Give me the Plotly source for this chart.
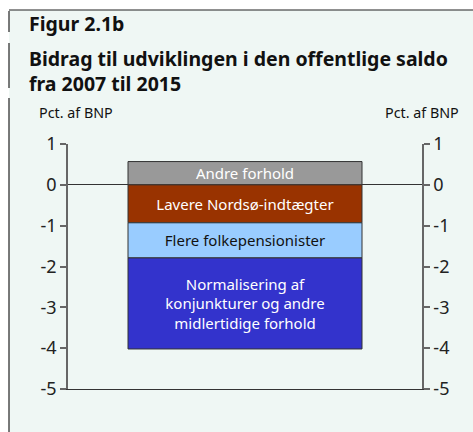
import plotly.graph_objects as go

categories = ["2007-2015"]
segments = ["Andre forhold", "Lavere Nordsø-indtægter", "Flere folkepensionister",
            "Normalisering af<br>konjunkturer og andre<br>midlertidige forhold"]
values = [0.57, -0.93, -0.86, -2.23]
colors = ["#999999", "#993300", "#99ccff", "#3333cc"]
text_colors = ["white", "white", "#111111", "white"]
tick_vals = [1, 0, -1, -2, -3, -4, -5]
tick_text = ["1", "0", "-1", "-2", "-3", "-4", "-5"]

BG = "#eff7f4"
FONT = "Noto Sans"

fig = go.Figure()
for name, v, c, tc in zip(segments, values, colors, text_colors):
    fig.add_trace(go.Bar(
        x=[0], y=[v], width=0.661, name=name,
        marker=dict(color=c, line=dict(color="#333333", width=1)),
        text=[name], textposition="inside", insidetextanchor="middle",
        textangle=0, constraintext="none",
        textfont=dict(family=FONT, size=15, color=tc),
        showlegend=False, hoverinfo="skip",
    ))

# invisible trace for right axis
fig.add_trace(go.Scatter(x=[0], y=[0], yaxis="y2", mode="markers",
                         marker=dict(opacity=0), showlegend=False, hoverinfo="skip"))

axis_common = dict(
    range=[-5, 1], tickvals=tick_vals, ticktext=tick_text, ticks="outside", ticklen=6,
    tickcolor="#666666", tickwidth=1.5, showline=True, linecolor="#666666",
    linewidth=1.5, showgrid=False, tickfont=dict(family=FONT, size=18, color="#222222"),
    fixedrange=True,
)

W, H = 473, 432
ML, MR, MT, MB = 68, 51, 144, 43
pw, ph = W - ML - MR, H - MT - MB


def px(x):
    return (x - ML) / pw


def py(y):
    return (H - MB - y) / ph


shapes = [
    dict(type="rect", xref="paper", yref="paper", x0=px(9), x1=px(W + 5), y0=py(H + 5), y1=py(10),
         fillcolor=BG, line_width=0, layer="below"),
    dict(type="line", xref="paper", yref="paper", x0=px(9), x1=px(W + 5), y0=py(10), y1=py(10),
         line=dict(color="#222222", width=1.2)),
]
for y0, y1 in [(11, 32), (43, 88), (98, H + 5)]:
    shapes.append(dict(type="line", xref="paper", yref="paper", x0=px(9), x1=px(9),
                       y0=py(y0), y1=py(y1), line=dict(color="#222222", width=1.2)))

fig.update_layout(
    width=W, height=H, autosize=False,
    margin=dict(l=ML, r=MR, t=MT, b=MB),
    paper_bgcolor="white", plot_bgcolor=BG,
    barmode="relative",
    xaxis=dict(range=[-0.5, 0.5], showticklabels=False, ticks="", showgrid=False,
               zeroline=False, showline=True, linecolor="#333333", linewidth=1,
               fixedrange=True),
    yaxis=dict(**axis_common, zeroline=True, zerolinecolor="#333333", zerolinewidth=1,
               side="left"),
    yaxis2=dict(**axis_common, overlaying="y", side="right", zeroline=False),
    shapes=shapes,
)

annots = [
    dict(text="<b>Figur 2.1b</b>", x=px(27), y=py(23), size=19.5),
    dict(text="<b>Bidrag til udviklingen i den offentlige saldo<br>fra 2007 til 2015</b>",
         x=px(27), y=py(71), size=19.5),
    dict(text="Pct. af BNP", x=px(37), y=py(112), size=14.3),
]
for a in annots:
    fig.add_annotation(text=a["text"], x=a["x"], y=a["y"], xref="paper", yref="paper",
                       xanchor="left", yanchor="middle", align="left", showarrow=False,
                       font=dict(family=FONT, size=a["size"], color="#111111"))
fig.add_annotation(text="Pct. af BNP", x=px(461), y=py(112), xref="paper", yref="paper",
                   xanchor="right", yanchor="middle", showarrow=False,
                   font=dict(family=FONT, size=14.3, color="#111111"))

fig.write_html("out.html", config={"displayModeBar": False},
               post_script="document.body.style.margin='0';")
